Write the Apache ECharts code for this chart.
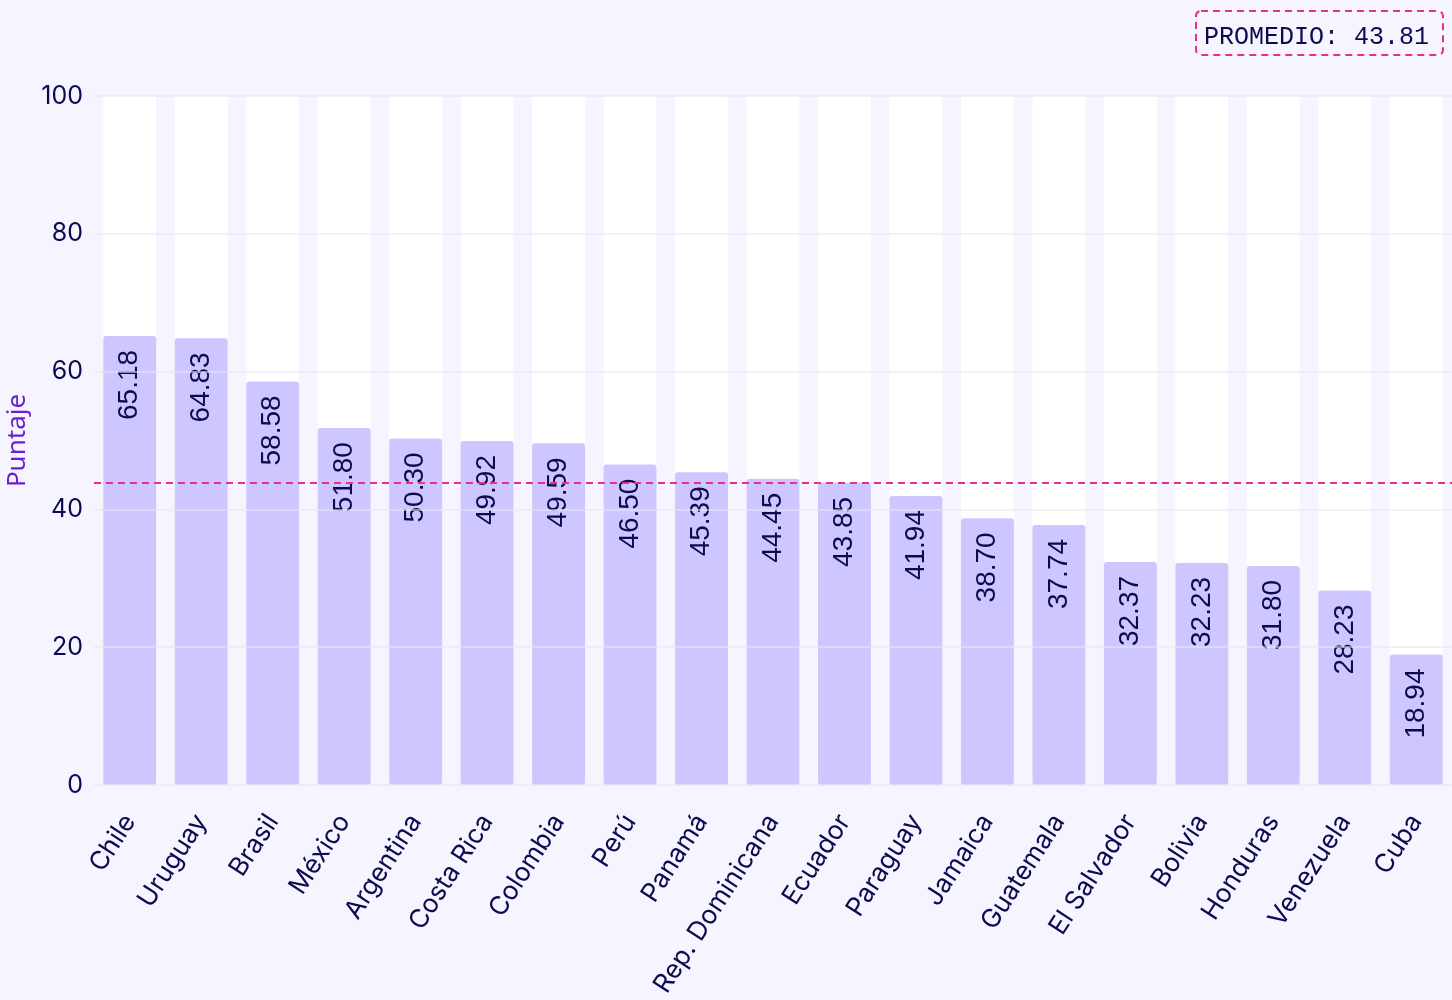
<!DOCTYPE html>
<html>
<head>
<meta charset="utf-8">
<script src="https://cdn.jsdelivr.net/npm/echarts@6/dist/echarts.min.js"></script>
<style>
  html, body { margin: 0; padding: 0; background: #f6f4ff; }
  #main { width: 1452px; height: 1000px; }
</style>
</head>
<body>
<div id="main"></div>
<script>
// países y puntajes
var paises = ['Chile', 'Uruguay', 'Brasil', 'México', 'Argentina', 'Costa Rica', 'Colombia', 'Perú', 'Panamá',
  'Rep. Dominicana', 'Ecuador', 'Paraguay', 'Jamaica', 'Guatemala', 'El Salvador', 'Bolivia', 'Honduras',
  'Venezuela', 'Cuba'];
var puntajes = [65.18, 64.83, 58.58, 51.80, 50.30, 49.92, 49.59, 46.50, 45.39, 44.45, 43.85, 41.94, 38.70,
  37.74, 32.37, 32.23, 31.80, 28.23, 18.94];
var ejeY = [0, 20, 40, 60, 80, 100];

var promedio = puntajes.reduce(function (a, b) { return a + b; }, 0) / puntajes.length;

var navy = '#0b0b50';
var myChart = echarts.init(document.getElementById('main'));

myChart.setOption({
  backgroundColor: '#f6f4ff',
  animation: false,
  grid: { left: 94, right: 0, top: 96, bottom: 215, outerBoundsMode: 'none' },
  graphic: [
    {
      type: 'rect',
      x: 1196, y: 11,
      shape: { width: 247, height: 44, r: 5 },
      style: { fill: 'transparent', stroke: '#e8308a', lineWidth: 2, lineDash: [7, 5] }
    },
    {
      type: 'text',
      x: 1204, y: 37,
      style: {
        text: 'PROMEDIO: ' + promedio.toFixed(2),
        fill: navy,
        verticalAlign: 'middle',
        font: '25px "Liberation Mono", "DejaVu Sans Mono", monospace'
      }
    }
  ],
  xAxis: {
    type: 'category',
    data: paises,
    axisLine: { show: false },
    axisTick: { show: false },
    axisLabel: {
      rotate: 57,
      margin: 32,
      interval: 0,
      color: navy,
      fontSize: 26,
      fontFamily: 'Inter'
    }
  },
  yAxis: {
    type: 'value',
    min: ejeY[0],
    max: ejeY[ejeY.length - 1],
    interval: 20,
    z: 10,
    name: 'Puntaje',
    nameLocation: 'middle',
    nameGap: 56,
    nameTextStyle: { color: '#6a1fd6', fontSize: 26, fontFamily: '"Noto Sans"' },
    axisLabel: { color: navy, fontSize: 25, fontFamily: 'Inter', margin: 11 },
    splitLine: { lineStyle: { color: 'rgba(232,230,242,0.75)', width: 1.5 } }
  },
  series: [
    {
      type: 'bar',
      data: puntajes,
      barCategoryGap: '26%',
      showBackground: true,
      backgroundStyle: { color: '#ffffff', borderRadius: 3 },
      itemStyle: { color: '#cdc6ff', borderRadius: 3 },
      label: {
        show: true,
        position: 'insideTop',
        rotate: 90,
        align: 'right',
        verticalAlign: 'middle',
        distance: 14,
        color: navy,
        fontSize: 28,
        fontFamily: '"Liberation Sans", Arial, sans-serif',
        formatter: function (p) { return p.value.toFixed(2); }
      },
      markLine: {
        silent: true,
        symbol: 'none',
        label: { show: false },
        lineStyle: { color: '#e8308a', type: [7, 5], width: 2 },
        data: [{ yAxis: promedio }]
      }
    }
  ]
});
</script>
</body>
</html>
